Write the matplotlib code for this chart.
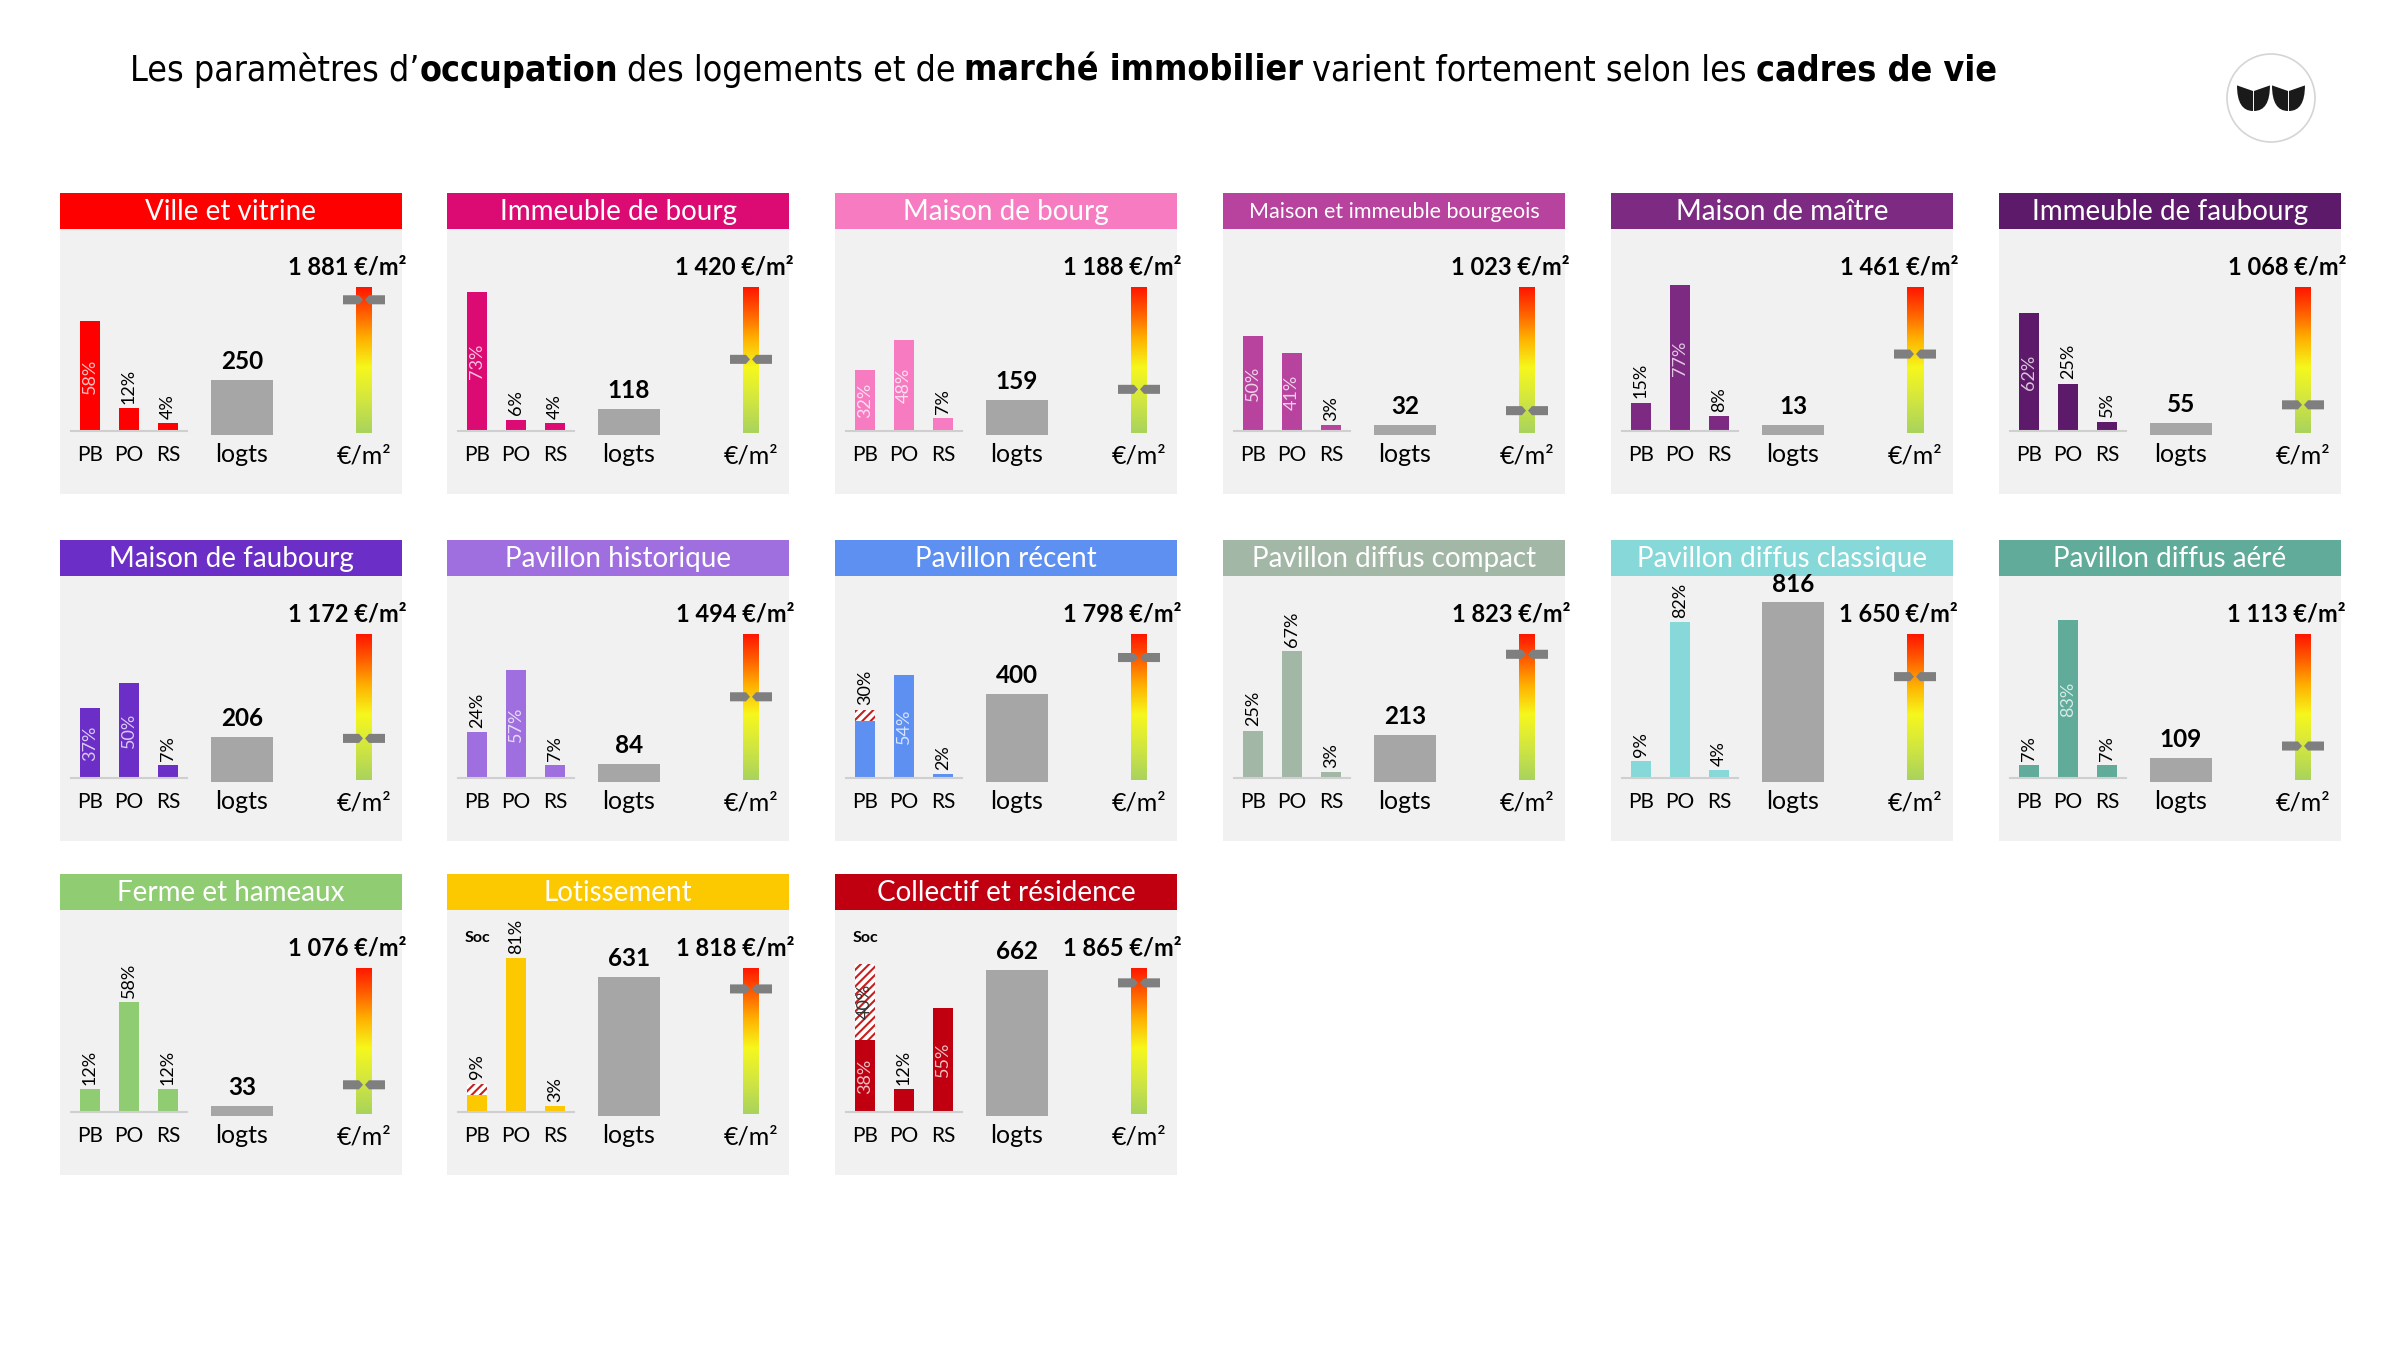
import matplotlib
matplotlib.use("Agg")
import matplotlib.pyplot as plt
import numpy as np
from matplotlib.patches import Rectangle, Polygon, Circle, PathPatch
from matplotlib.path import Path
from matplotlib.colors import LinearSegmentedColormap, to_rgb

# --- données ---
names = ["Ville et vitrine", "Immeuble de bourg", "Maison de bourg",
         "Maison et immeuble bourgeois", "Maison de maître", "Immeuble de faubourg",
         "Maison de faubourg", "Pavillon historique", "Pavillon récent",
         "Pavillon diffus compact", "Pavillon diffus classique", "Pavillon diffus aéré",
         "Ferme et hameaux", "Lotissement", "Collectif et résidence"]
colors = ["#fe0000", "#dc0a73", "#f77bc1", "#b7439e", "#7d2b82", "#5e1a6a",
          "#6b2fc7", "#9f6fdf", "#5e90f2", "#a2b7a6", "#87d8d8", "#60ab99",
          "#8fcc72", "#fcc800", "#c00010"]
cats = ["PB", "PO", "RS"]
pb = [58, 73, 32, 50, 15, 62, 37, 24, 30, 25, 9, 7, 12, 9, 38]
po = [12, 6, 48, 41, 77, 25, 50, 57, 54, 67, 82, 83, 58, 81, 12]
rs = [4, 4, 7, 3, 8, 5, 7, 7, 2, 3, 4, 7, 12, 3, 55]
soc = [0, 0, 0, 0, 0, 0, 0, 0, 6, 0, 0, 0, 0, 6, 40]
soc_tag = [False] * 13 + [True, True]
logts = [250, 118, 159, 32, 13, 55, 206, 84, 400, 213, 816, 109, 33, 631, 662]
prix = [1881, 1420, 1188, 1023, 1461, 1068, 1172, 1494, 1798, 1823, 1650, 1113, 1076, 1818, 1865]

title_parts = [("Les paramètres d’", "normal", 0),
               ("occupation", "bold", 0),
               ("des logements et de", "normal", 1),
               ("marché immobilier", "bold", 1),
               ("varient fortement selon les", "normal", 1),
               ("cadres de vie", "bold", 1)]

# --- mise en page ---
FONT = "Lato"
FIG_W, FIG_H = 2400, 1350
fig = plt.figure(figsize=(24, 13.5), dpi=100, facecolor="white")


def px_axes(x, y, w, h):
    return fig.add_axes([x / FIG_W, 1 - (y + h) / FIG_H, w / FIG_W, h / FIG_H])


def lighten(c, f):
    r = np.array(to_rgb(c))
    return tuple(r + (1 - r) * f)


def luminance(c):
    r, g, b = to_rgb(c)
    return 0.299 * r + 0.587 * g + 0.114 * b


col_x = [60, 447, 835, 1223, 1611, 1999]
row_y = [193, 540, 874]
PW, PH, HH = 342, 301, 36
PCT_MAX = 202 / 1.9
LOG_MAX = 206 / 0.22
LO, HI = 850, 1980
HATCH = "#c81e1e"
plt.rcParams["hatch.linewidth"] = 1.5

grad_cmap = LinearSegmentedColormap.from_list(
    "prix", [(0, "#a9d35d"), (0.25, "#d6e83c"), (0.45, "#f6f71c"),
             (0.65, "#ffb000"), (0.82, "#ff6000"), (1, "#ff1500")])

for i, name in enumerate(names):
    x0, y0 = col_x[i % 6], row_y[i // 6]

    # fond + bandeau
    ax = px_axes(x0, y0, PW, PH)
    ax.set_xlim(0, PW)
    ax.set_ylim(PH, 0)
    ax.axis("off")
    ax.add_patch(Rectangle((0, 0), PW, PH, fc="#f1f1f1", ec="none"))
    ax.add_patch(Rectangle((0, 0), PW, HH, fc=colors[i], ec="none"))
    ax.text(PW / 2, HH / 2 + 1, name, color="white", ha="center", va="center",
            fontsize=20 if len(name) < 27 else 15.5, family=FONT)
    ax.text(347, 74, f"{prix[i]:,}".replace(",", " ") + " €/m²", ha="right",
            va="center", fontsize=17, fontweight="bold", family=FONT)
    if soc_tag[i]:
        ax.text(18, 64, "Soc", ha="left", va="center", fontsize=11.5,
                fontweight="bold", family=FONT)

    # PB / PO / RS
    axp = px_axes(x0 + 11, y0 + 36, 116, 202)
    axp.set_facecolor("none")
    vals = [pb[i], po[i], rs[i]]
    axp.bar(range(3), vals, width=0.49, color=colors[i])
    if soc[i]:
        axp.bar(0, soc[i], bottom=pb[i], width=0.49, color="white",
                edgecolor=HATCH, hatch="////", lw=0)
    axp.set_xlim(-0.487, 2.487)
    axp.set_ylim(0, PCT_MAX)
    for s in ["left", "right", "top"]:
        axp.spines[s].set_visible(False)
    axp.spines["bottom"].set_color("#cfcfcf")
    axp.spines["bottom"].set_linewidth(1.5)
    axp.set_yticks([])
    axp.set_xticks(range(3), cats, family=FONT)
    axp.tick_params(axis="x", length=0, pad=10, labelsize=15)
    inside_ok = luminance(colors[i]) < 0.67
    for j, v in enumerate(vals):
        top = v + (soc[i] if j == 0 else 0)
        if v > 30 and inside_ok:
            axp.text(j, v / 2, f"{v}%", rotation=90, ha="center", va="center",
                     fontsize=13, color=lighten(colors[i], 0.75), family=FONT)
        else:
            axp.annotate(f"{v}%", (j, top), xytext=(0, 3), textcoords="offset points",
                         rotation=90, ha="center", va="bottom", fontsize=13,
                         family=FONT, annotation_clip=False)
    if soc[i] >= 20:
        axp.text(0, pb[i] + soc[i] / 2, f"{soc[i]}%", rotation=90, ha="center",
                 va="center", fontsize=13, color="#333333", family=FONT)

    # logements
    axl = px_axes(x0 + 140, y0 + 36, 84, 206)
    axl.set_facecolor("none")
    h = max(logts[i], 45)
    axl.bar(0, h, width=0.73, color="#a6a6a6")
    axl.set_xlim(-0.5, 0.5)
    axl.set_ylim(0, LOG_MAX)
    for s in axl.spines.values():
        s.set_visible(False)
    axl.set_yticks([])
    axl.set_xticks([0], ["logts"], family=FONT)
    axl.tick_params(axis="x", length=0, pad=6, labelsize=18)
    axl.annotate(str(logts[i]), (0, h), xytext=(0, 5), textcoords="offset points",
                 ha="center", va="bottom", fontsize=17.5, fontweight="bold",
                 family=FONT, annotation_clip=False)

    # prix au m²
    axg = px_axes(x0 + 280, y0 + 94, 48, 146)
    axg.set_facecolor("none")
    axg.imshow(np.linspace(0, 1, 256).reshape(-1, 1), cmap=grad_cmap,
               extent=[16, 32, LO, HI], origin="lower", aspect="auto")
    axg.set_xlim(0, 48)
    axg.set_ylim(LO, HI)
    p, d = prix[i], 35
    axg.add_patch(Polygon([(3, p - d), (19, p - d), (23, p), (19, p + d), (3, p + d)],
                          fc="#7f7f7f", ec="none", clip_on=False))
    axg.add_patch(Polygon([(45, p - d), (29, p - d), (25, p), (29, p + d), (45, p + d)],
                          fc="#7f7f7f", ec="none", clip_on=False))
    for s in axg.spines.values():
        s.set_visible(False)
    axg.set_yticks([])
    axg.set_xticks([24], ["€/m²"], family=FONT)
    axg.tick_params(axis="x", length=0, pad=8, labelsize=18)

# --- titre ---
tax = fig.add_axes([0, 0, 1, 1])
tax.axis("off")
FS = 25.7
TF = dict(fontsize=FS, family="DejaVu Sans", fontstretch="condensed")
prev = tax.text(130 / FIG_W, 1 - 70 / FIG_H, title_parts[0][0],
                fontweight=title_parts[0][1], va="center", ha="left", **TF)
for txt, w, gap in title_parts[1:]:
    prev = tax.annotate(txt, xy=(1, 0), xycoords=prev, xytext=(gap * 0.25 * FS, 0),
                        textcoords="offset points", va="bottom", ha="left",
                        fontweight=w, **TF)

# --- logo ---
lax = px_axes(2221, 48, 100, 100)
lax.set_xlim(-50, 50)
lax.set_ylim(-50, 50)
lax.axis("off")
lax.add_patch(Circle((0, 0), 44, fc="white", ec="#d5d5d5", lw=1.2))
leaf = [(0, 1.6), (1, 1.25), (1, 0), (0, 0), (0, 1.6)]
codes = [Path.MOVETO, Path.LINETO, Path.LINETO, Path.CURVE3, Path.CURVE3]
for ox in [-34, 1]:
    for mirror in [False, True]:
        pts = [((2.06 - x) if mirror else x, y) for x, y in leaf]
        verts = [(ox + 16 * x, -13 + 16 * y) for x, y in pts]
        lax.add_patch(PathPatch(Path(verts, codes), fc="#1a1a1a", ec="none"))

fig.savefig("out.png", dpi=100, facecolor="white")
